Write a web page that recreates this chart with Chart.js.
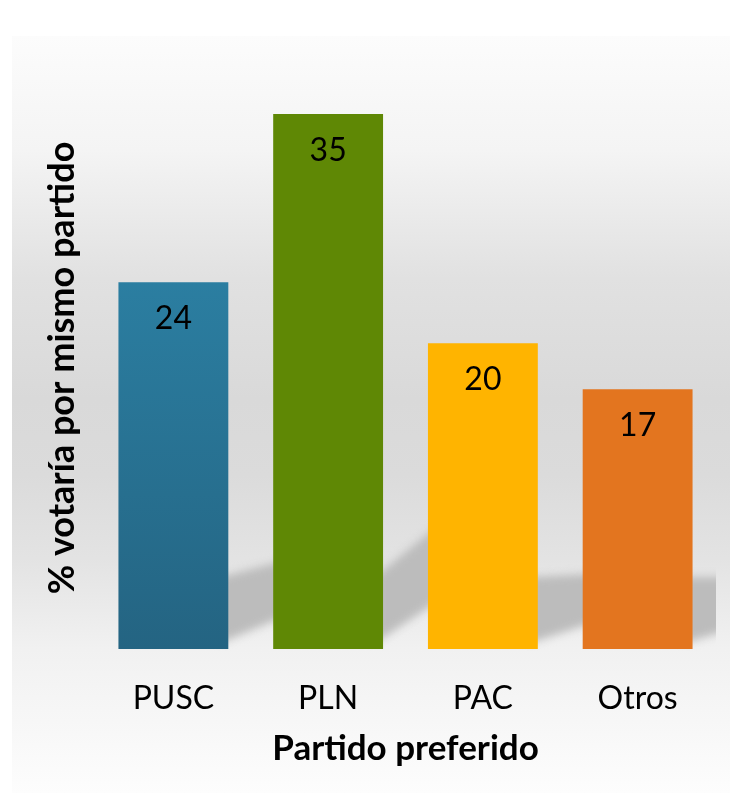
<!DOCTYPE html>
<html>
<head>
<meta charset="utf-8">
<script src="https://cdn.jsdelivr.net/npm/chart.js@4.4.1/dist/chart.umd.min.js"></script>
<style>
html,body{margin:0;padding:0;background:#ffffff;}
#wrap{width:730px;height:811px;position:relative;}
</style>
</head>
<body>
<div id="wrap"><canvas id="c"></canvas></div>
<script>
const categories = ['PUSC', 'PLN', 'PAC', 'Otros'];
const values = [24, 35, 20, 17];
const barColors = ['#2b7ea1', '#5f8805', '#ffb400', '#e3751f'];
const barColorsBottom = ['#246482', '#5f8805', '#ffb400', '#e3751f'];
const yTitle = '% votaría por mismo partido';
const xTitle = 'Partido preferido';
const FONT = 'Lato, "Open Sans", sans-serif';

const panelPlugin = {
  id: 'panel',
  beforeDraw(chart) {
    const ctx = chart.ctx;
    const g = ctx.createLinearGradient(0, 36, 0, 793);
    g.addColorStop(0, '#fcfcfc');
    g.addColorStop(0.15, '#f4f4f4');
    g.addColorStop(0.32, '#e1e1e1');
    g.addColorStop(0.48, '#d9d9d9');
    g.addColorStop(0.58, '#dbdbdb');
    g.addColorStop(0.69, '#e3e3e3');
    g.addColorStop(0.81, '#f1f1f1');
    g.addColorStop(1, '#fdfdfd');
    ctx.save();
    ctx.fillStyle = g;
    ctx.fillRect(12, 36, 718, 757);
    ctx.restore();
  }
};

const shadowPlugin = {
  id: 'barShadow',
  beforeDatasetsDraw(chart) {
    const ctx = chart.ctx;
    const a = chart.chartArea;
    const meta = chart.getDatasetMeta(0);
    ctx.save();
    ctx.beginPath();
    ctx.rect(a.left, a.top, a.right - a.left + 1, a.bottom - a.top + 2);
    ctx.clip();
    ctx.filter = 'blur(4px)';
    ctx.fillStyle = '#bcbcbc';
    meta.data.forEach(el => {
      const R = el.x + el.width / 2;
      const B = el.base;
      const H = B - el.y;
      const s = Math.max(0, (H - 290) / 300);
      const sb = 0.3 + 0.45 * s;
      const dx = 70;
      ctx.beginPath();
      ctx.moveTo(R - 8, B - 6);
      ctx.lineTo(R - 8, B - 72);
      ctx.lineTo(R + dx, B - 72 - s * (dx + 8));
      ctx.lineTo(R + dx, B - 6 - sb * (dx + 8));
      ctx.closePath();
      ctx.fill();
    });
    ctx.restore();
  }
};

const labelPlugin = {
  id: 'labels',
  afterDatasetsDraw(chart) {
    const ctx = chart.ctx;
    const meta = chart.getDatasetMeta(0);
    ctx.save();
    ctx.font = '32px ' + FONT;
    ctx.fillStyle = '#000000';
    ctx.textAlign = 'center';
    ctx.textBaseline = 'alphabetic';
    meta.data.forEach((el, i) => {
      ctx.fillText(String(values[i]), el.x, el.y + 47);
    });
    ctx.restore();
  },
  afterDraw(chart) {
    const ctx = chart.ctx;
    ctx.save();
    ctx.font = 'bold 36px ' + FONT;
    ctx.fillStyle = '#000000';
    ctx.textAlign = 'center';
    ctx.textBaseline = 'middle';
    ctx.translate(62, 368);
    ctx.rotate(-Math.PI / 2);
    ctx.fillText(yTitle, 0, 0);
    ctx.restore();
  }
};

new Chart(document.getElementById('c'), {
  type: 'bar',
  data: {
    labels: categories,
    datasets: [{
      data: values,
      backgroundColor: (c) => {
        const chart = c.chart;
        const i = c.dataIndex;
        if (!chart.chartArea || i === undefined) return barColors[i] || barColors[0];
        const y = chart.scales.y;
        const g = chart.ctx.createLinearGradient(0, y.getPixelForValue(values[i]), 0, y.getPixelForValue(0));
        g.addColorStop(0, barColors[i]);
        g.addColorStop(1, barColorsBottom[i]);
        return g;
      },
      borderWidth: 0,
      barPercentage: 0.71,
      categoryPercentage: 1.0
    }]
  },
  options: {
    responsive: true,
    maintainAspectRatio: false,
    animation: false,
    layout: { padding: { top: 114, right: 15, left: 0, bottom: 0 } },
    plugins: { legend: { display: false }, tooltip: { enabled: false } },
    scales: {
      x: {
        grid: { display: false, drawTicks: false },
        border: { display: false },
        ticks: { color: '#000000', font: { family: FONT, size: 32 }, padding: 30 },
        title: { display: true, text: xTitle, color: '#000000', font: { family: FONT, size: 35, weight: 'bold' }, padding: { top: 0, bottom: 41 } },
        afterFit(scale) { scale.height = 162; }
      },
      y: {
        min: 0, max: 35,
        grid: { display: false, drawTicks: false },
        border: { display: false },
        ticks: { display: false },
        afterFit(scale) { scale.width = 96; }
      }
    }
  },
  plugins: [panelPlugin, shadowPlugin, labelPlugin]
});
</script>
</body>
</html>
